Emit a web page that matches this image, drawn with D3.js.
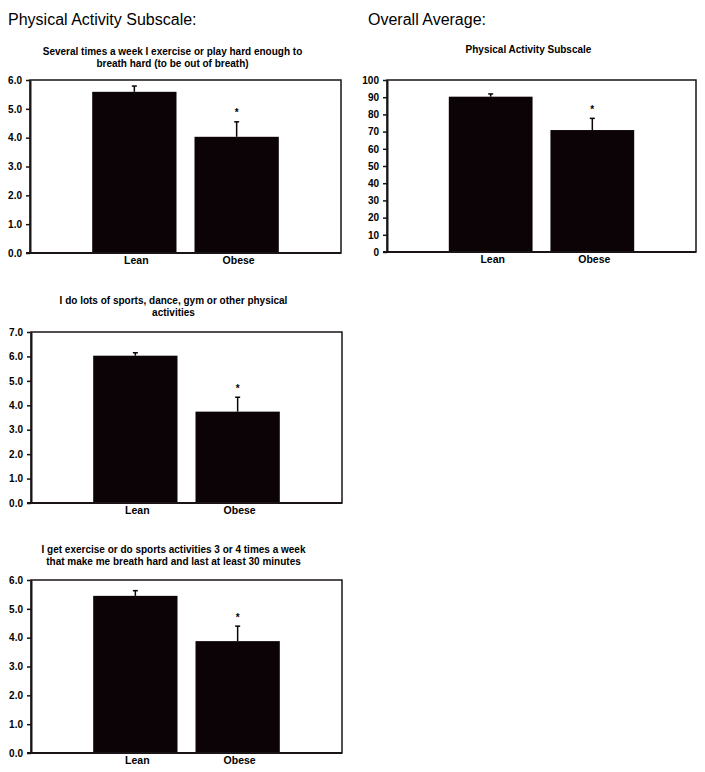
<!DOCTYPE html>
<html>
<head>
<meta charset="utf-8">
<script src="https://cdn.jsdelivr.net/npm/d3@7"></script>
<style>
  body { margin: 0; background: #fff; }
  svg { font-family: "Liberation Sans", Arial, sans-serif; }
</style>
</head>
<body>
<div id="chart"></div>
<script>
// data
const groups = ["Lean", "Obese"];
const sigMarks = ["", "*"];

const titles1 = ["Several times a week I exercise or play hard enough to", "breath hard (to be out of breath)"];
const means1 = [5.59, 4.03];
const errs1 = [0.20, 0.52];
const ticks1 = [0, 1, 2, 3, 4, 5, 6];

const titles2 = ["Physical Activity Subscale"];
const means2 = [90.3, 70.9];
const errs2 = [1.6, 6.8];
const ticks2 = [0, 10, 20, 30, 40, 50, 60, 70, 80, 90, 100];

const titles3 = ["I do lots of sports, dance, gym or other physical", "activities"];
const means3 = [6.03, 3.74];
const errs3 = [0.12, 0.59];
const ticks3 = [0, 1, 2, 3, 4, 5, 6, 7];

const titles4 = ["I get exercise or do sports activities 3 or 4 times a week", "that make me breath hard and last at least 30 minutes"];
const means4 = [5.45, 3.88];
const errs4 = [0.18, 0.52];
const ticks4 = [0, 1, 2, 3, 4, 5, 6];

const width = 705;
const height = 772;
const barColor = "#0c0306";

const svg = d3.select("#chart")
  .append("svg")
  .attr("width", width)
  .attr("height", height);

// section headings
svg.append("text").attr("x", 8).attr("y", 25)
  .attr("font-size", "16px").text("Physical Activity Subscale:");
svg.append("text").attr("x", 368).attr("y", 25)
  .attr("font-size", "16px").text("Overall Average:");

// one bar panel
function drawPanel(box, titleLines, means, errs, ticks, fmt) {
  const W = box.right - box.left;

  const y = d3.scaleLinear()
    .domain([0, d3.max(ticks)])
    .range([box.bottom, box.top]);

  const x = d3.scaleBand()
    .domain(groups)
    .range([box.left + 0.2 * W, box.left + 0.8 * W])
    .paddingInner(0.176);

  // title
  const cx = box.left + W / 2 - 13;
  titleLines.forEach((t, i) => {
    svg.append("text")
      .attr("x", cx)
      .attr("y", box.titleY + i * 12)
      .attr("text-anchor", "middle")
      .attr("font-size", "10px")
      .attr("font-weight", "bold")
      .text(t);
  });

  // frame
  svg.append("rect")
    .attr("x", box.left).attr("y", box.top)
    .attr("width", W).attr("height", box.bottom - box.top)
    .attr("fill", "none").attr("stroke", "#1a1416").attr("stroke-width", 1.5);

  // bars
  svg.selectAll(null)
    .data(means)
    .enter()
    .append("rect")
      .attr("x", (d, i) => x(groups[i]))
      .attr("y", d => y(d))
      .attr("width", x.bandwidth())
      .attr("height", d => box.bottom - y(d))
      .attr("fill", barColor);

  // error bars (upper only)
  means.forEach((m, i) => {
    const xc = x(groups[i]) + x.bandwidth() / 2;
    const top = y(m + errs[i]);
    svg.append("line")
      .attr("x1", xc).attr("x2", xc)
      .attr("y1", y(m)).attr("y2", top)
      .attr("stroke", barColor).attr("stroke-width", 1.5);
    svg.append("line")
      .attr("x1", xc - 2.5).attr("x2", xc + 2.5)
      .attr("y1", top).attr("y2", top)
      .attr("stroke", barColor).attr("stroke-width", 1.5);
    if (sigMarks[i]) {
      svg.append("text")
        .attr("x", xc).attr("y", top - 5.5)
        .attr("text-anchor", "middle")
        .attr("font-size", "10px").attr("font-weight", "bold")
        .text(sigMarks[i]);
    }
  });

  // y axis
  const yAxis = svg.append("g")
    .attr("transform", `translate(${box.left},0)`)
    .call(d3.axisLeft(y).tickValues(ticks).tickFormat(fmt).tickSize(4).tickPadding(4).tickSizeOuter(0));
  yAxis.select(".domain").attr("stroke", "#1a1416").attr("stroke-width", 2);
  yAxis.selectAll(".tick line").attr("stroke", "#1a1416").attr("stroke-width", 1.5);
  yAxis.selectAll("text")
    .attr("font-size", "10px").attr("font-weight", "bold")
    .attr("fill", "#000").attr("font-family", "Liberation Sans, Arial, sans-serif");

  // bottom axis line
  svg.append("line")
    .attr("x1", box.left - 4).attr("x2", box.right)
    .attr("y1", box.bottom).attr("y2", box.bottom)
    .attr("stroke", "#1a1416").attr("stroke-width", 2);

  // category labels
  groups.forEach(g => {
    svg.append("text")
      .attr("x", x(g) + x.bandwidth() / 2 + 2)
      .attr("y", box.bottom + 11)
      .attr("text-anchor", "middle")
      .attr("font-size", "10.5px").attr("font-weight", "bold")
      .text(g);
  });
}

const fmt1 = d3.format(".1f");
const fmt0 = d3.format("d");

drawPanel({left: 30, right: 341, top: 80, bottom: 253, titleY: 55}, titles1, means1, errs1, ticks1, fmt1);
drawPanel({left: 387, right: 696, top: 80, bottom: 252, titleY: 53}, titles2, means2, errs2, ticks2, fmt0);
drawPanel({left: 31, right: 342, top: 332, bottom: 503, titleY: 304}, titles3, means3, errs3, ticks3, fmt1);
drawPanel({left: 31, right: 342, top: 580, bottom: 753, titleY: 553}, titles4, means4, errs4, ticks4, fmt1);
</script>
</body>
</html>
